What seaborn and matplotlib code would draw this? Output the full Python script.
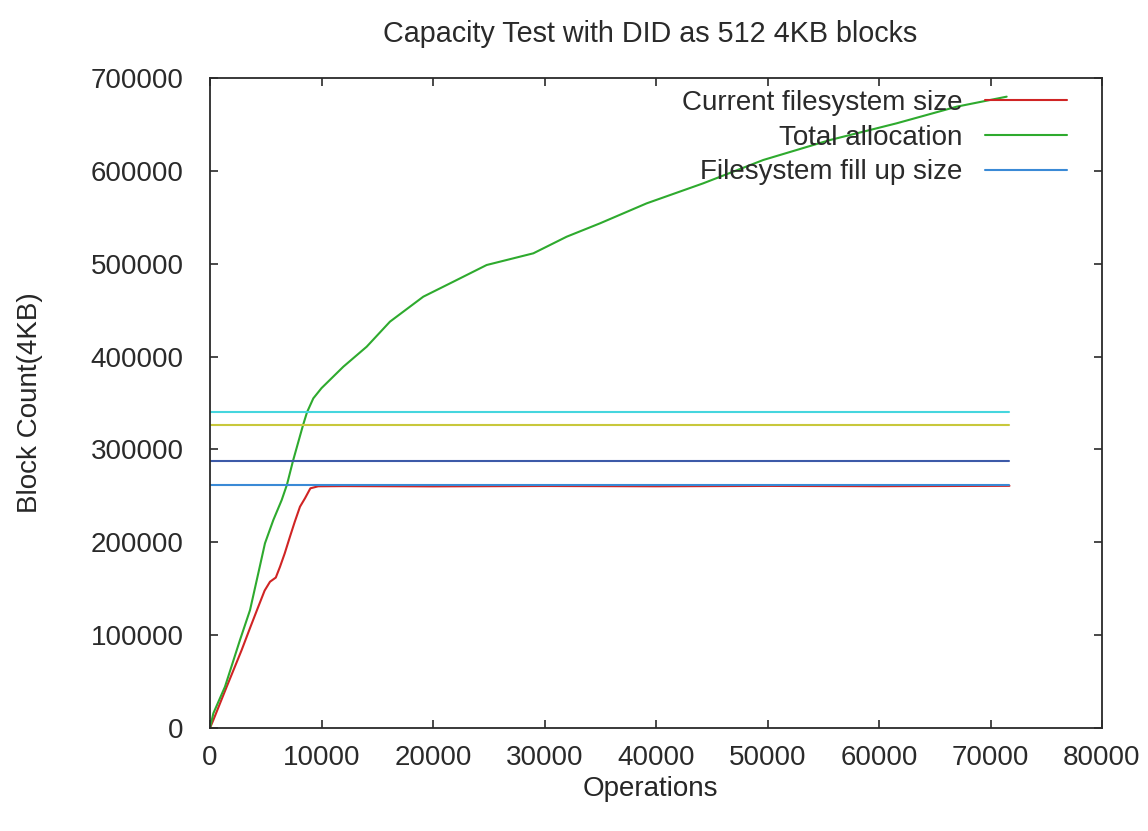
import numpy as np
import pandas as pd
import matplotlib
matplotlib.use('Agg')
import matplotlib.pyplot as plt
import seaborn as sns

# Data
current_ops = [0, 300, 1500, 2840, 3600, 4330, 4900, 5380, 5900, 6280, 6700,
               7170, 7600, 8070, 8520, 9000, 9700, 12000, 20000, 30000,
               40000, 50000, 60000, 71700]
current_size = [0, 8600, 44500, 84000, 108000, 130600, 148000, 157500, 162000,
                173700, 188000, 206000, 222000, 238300, 247400, 258100, 260300,
                260500, 260200, 260600, 260300, 260700, 260400, 260800]

total_ops = [0, 300, 1345, 2690, 3590, 4330, 4930, 5680, 6430, 6900, 7440,
             8340, 8700, 9265, 10000, 11960, 14050, 16140, 19130, 21820,
             24810, 29000, 31990, 34980, 39160, 44240, 49620, 55600, 61580,
             66960, 71450]
total_alloc = [0, 15800, 44500, 94800, 127000, 166600, 198900, 224000, 245500,
               262000, 287500, 326000, 340000, 355000, 366000, 389100, 410600,
               437600, 464500, 480600, 498600, 511200, 529100, 543500, 565000,
               586600, 611700, 633200, 651200, 669100, 679900]

fill_ops_end = 71700
fill_levels = [262000, 287500, 326000, 340000]
fill_colors = ['#3a8ad6', '#3c5aa8', '#c8c83c', '#46d6de']

RED = '#d02424'
GREEN = '#2eaa2e'
INK = '#2a2a2a'

sns.set_theme(style='white')
plt.rcParams.update({
    'font.family': ['Liberation Sans', 'DejaVu Sans'],
    'font.size': 20,
    'xtick.direction': 'in',
    'ytick.direction': 'in',
    'xtick.top': True,
    'ytick.right': True,
    'xtick.bottom': True,
    'ytick.left': True,
    'xtick.major.size': 6,
    'ytick.major.size': 6,
    'xtick.major.width': 1.2,
    'ytick.major.width': 1.2,
    'axes.edgecolor': INK,
    'axes.linewidth': 1.3,
    'text.color': INK,
    'xtick.color': INK,
    'ytick.color': INK,
})

fig, ax = plt.subplots(figsize=(11.48, 8.31), dpi=100)
fig.subplots_adjust(left=210/1148, right=1102/1148, top=1 - 78/831, bottom=1 - 728/831)

sns.lineplot(x=current_ops, y=current_size, color=RED, lw=1.5, sort=False,
             estimator=None, label='Current filesystem size', ax=ax)
sns.lineplot(x=total_ops, y=total_alloc, color=GREEN, lw=1.5, sort=False,
             estimator=None, label='Total allocation', ax=ax)
for i, (lvl, col) in enumerate(zip(fill_levels, fill_colors)):
    sns.lineplot(x=[0, fill_ops_end], y=[lvl, lvl], color=col, lw=1.5,
                 label='Filesystem fill up size' if i == 0 else None, ax=ax)

ax.set_xlim(0, 80000)
ax.set_ylim(0, 700000)
ax.set_xticks(np.arange(0, 80001, 10000))
ax.set_yticks(np.arange(0, 700001, 100000))
ax.tick_params(axis='x', pad=12, labelsize=20)
ax.tick_params(axis='y', pad=19, labelsize=20)

ax.set_xlabel('Operations', fontsize=20)
ax.set_ylabel('Block Count(4KB)', fontsize=20)
ax.xaxis.set_label_coords(0.494, -0.074)
ax.yaxis.set_label_coords(-0.187, 0.5)
ax.set_title('Capacity Test with DID as 512 4KB blocks', fontsize=20.7,
             x=0.493, pad=26)

ax.legend(loc='upper right', bbox_to_anchor=(857/892, 0.982), frameon=False,
          markerfirst=False, handlelength=2.95, handletextpad=0.8,
          labelspacing=0.32, borderpad=0, borderaxespad=0, fontsize=20)

fig.savefig('out.png', dpi=100)
